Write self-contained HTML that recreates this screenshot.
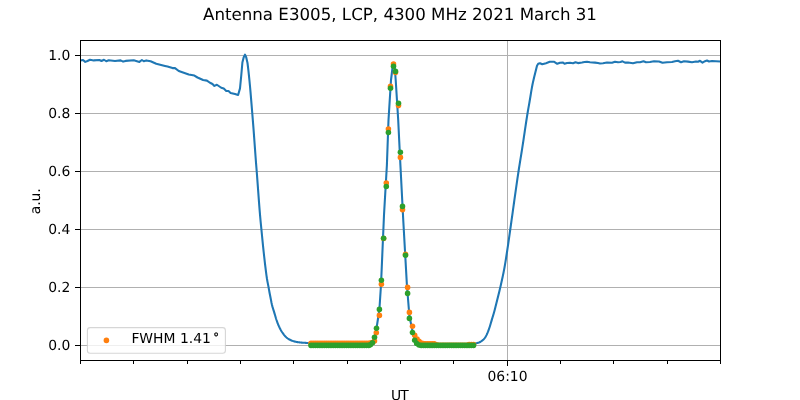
<!DOCTYPE html>
<html lang="en"><head><meta charset="utf-8"><title>Antenna E3005, LCP, 4300 MHz 2021 March 31</title>
<style>html,body{margin:0;padding:0;background:#fff;overflow:hidden}svg{display:block}text{text-rendering:geometricPrecision;font-family:'DejaVu Sans','Liberation Sans',sans-serif;fill:#000}</style></head><body>
<svg width="800" height="400" viewBox="0 0 800 400">
<rect x="0" y="0" width="800" height="400" fill="#ffffff"/>
<g stroke="#b0b0b0" stroke-width="1.11" fill="none" shape-rendering="crispEdges">
<line x1="80.5" y1="55.5" x2="720.5" y2="55.5"/>
<line x1="80.5" y1="113.5" x2="720.5" y2="113.5"/>
<line x1="80.5" y1="171.5" x2="720.5" y2="171.5"/>
<line x1="80.5" y1="229.5" x2="720.5" y2="229.5"/>
<line x1="80.5" y1="287.5" x2="720.5" y2="287.5"/>
<line x1="80.5" y1="345.5" x2="720.5" y2="345.5"/>
<line x1="507.5" y1="40.5" x2="507.5" y2="360.5"/>
</g>
<defs><clipPath id="ax"><rect x="80.5" y="40.5" width="640" height="320"/></clipPath></defs>
<g clip-path="url(#ax)">
<path d="M80.50 60.60 L83.00 60.00 L85.25 61.90 L87.50 61.00 L90.00 59.75 L93.75 60.40 L99.40 60.00 L101.50 61.00 L104.00 59.75 L106.25 61.25 L108.75 60.25 L115.00 61.00 L120.60 60.40 L123.10 61.60 L125.60 60.90 L133.75 60.25 L139.40 61.90 L141.90 60.00 L143.75 61.25 L146.25 60.40 L150.60 61.25 L156.25 63.75 L165.00 65.90 L167.50 66.50 L172.50 68.10 L175.00 68.10 L178.75 71.00 L188.75 74.40 L194.40 75.60 L197.50 77.50 L203.10 80.00 L206.90 80.60 L210.00 82.75 L212.50 84.00 L214.40 85.90 L216.90 84.75 L221.25 87.75 L223.75 88.50 L226.25 91.00 L228.50 91.00 L230.60 92.90 L235.00 94.00 L238.10 95.00 L240.00 88.40 L241.30 75.00 L242.40 62.50 L243.70 57.20 L245.00 54.60 L246.20 57.20 L247.50 63.00 L248.00 67.07 L248.50 71.43 L249.00 76.08 L249.50 80.99 L250.00 86.23 L250.50 91.88 L251.00 97.82 L251.50 103.91 L252.00 110.00 L252.50 116.10 L253.00 122.32 L253.50 128.70 L254.00 135.33 L254.50 142.22 L255.00 149.18 L255.50 156.03 L256.00 162.56 L256.50 168.78 L257.00 175.18 L257.50 181.85 L258.00 188.64 L258.50 195.45 L259.00 202.15 L259.50 208.60 L260.00 214.69 L260.50 220.28 L261.00 225.39 L261.50 230.41 L262.00 235.51 L262.50 240.60 L263.00 245.59 L263.50 250.42 L264.00 255.00 L264.50 259.42 L265.00 263.78 L265.50 267.99 L266.00 271.98 L266.50 275.68 L267.00 279.00 L267.50 281.83 L268.00 284.33 L268.50 286.86 L269.00 289.68 L269.50 292.50 L270.00 295.04 L270.50 297.50 L271.00 300.11 L271.50 302.71 L272.00 305.00 L272.50 306.88 L273.00 308.56 L273.50 310.12 L274.00 311.68 L274.50 313.34 L275.00 315.08 L275.50 316.81 L276.00 318.47 L276.50 320.00 L277.00 321.41 L277.50 322.77 L278.00 324.06 L278.50 325.28 L279.00 326.43 L279.50 327.50 L280.00 328.50 L280.50 329.46 L281.00 330.36 L281.50 331.21 L282.00 332.01 L282.50 332.75 L283.00 333.46 L283.50 334.14 L284.00 334.80 L284.50 335.42 L285.00 336.00 L285.50 336.54 L286.00 337.03 L286.50 337.46 L287.00 337.87 L287.50 338.26 L288.00 338.62 L288.50 338.95 L289.00 339.26 L289.50 339.54 L290.00 339.80 L290.50 340.04 L291.00 340.27 L291.50 340.49 L292.00 340.69 L292.50 340.89 L293.00 341.07 L293.50 341.23 L294.00 341.37 L294.50 341.50 L295.00 341.61 L295.50 341.72 L296.00 341.83 L296.50 341.93 L297.00 342.02 L297.50 342.10 L298.00 342.18 L298.50 342.26 L299.00 342.33 L299.50 342.39 L300.00 342.45 L300.50 342.50 L301.00 342.55 L301.50 342.59 L302.00 342.63 L302.50 342.67 L303.00 342.71 L303.50 342.74 L304.00 342.77 L304.50 342.80 L305.00 342.83 L305.50 342.86 L306.00 342.89 L306.50 342.92 L307.00 342.94 L307.50 342.97 L308.00 343.00 L308.50 343.03 L309.00 343.06 L309.50 343.09 L310.00 343.12 L310.50 343.15 L311.00 343.17 L311.50 343.19 L312.00 343.20 L312.50 343.20 L313.00 343.21 L313.50 343.21 L314.00 343.22 L314.50 343.22 L315.00 343.22 L315.50 343.23 L316.00 343.23 L316.50 343.23 L317.00 343.24 L317.50 343.24 L318.00 343.24 L318.50 343.25 L319.00 343.25 L319.50 343.25 L320.00 343.25 L320.50 343.26 L321.00 343.26 L321.50 343.26 L322.00 343.26 L322.50 343.27 L323.00 343.27 L323.50 343.27 L324.00 343.27 L324.50 343.27 L325.00 343.28 L325.50 343.28 L326.00 343.28 L326.50 343.28 L327.00 343.28 L327.50 343.28 L328.00 343.29 L328.50 343.29 L329.00 343.29 L329.50 343.29 L330.00 343.29 L330.50 343.29 L331.00 343.29 L331.50 343.29 L332.00 343.29 L332.50 343.29 L333.00 343.30 L333.50 343.30 L334.00 343.30 L334.50 343.30 L335.00 343.30 L335.50 343.30 L336.00 343.30 L336.50 343.30 L337.00 343.30 L337.50 343.30 L338.00 343.30 L338.50 343.30 L339.00 343.30 L339.50 343.30 L340.00 343.30 L366.00 343.40 L368.00 343.30 L370.40 342.90 L372.50 341.50 L374.50 337.00 L376.50 328.50 L379.40 309.50 L381.00 285.00 L384.00 215.00 L386.90 165.00 L388.50 120.00 L391.00 80.00 L392.50 68.00 L393.50 65.30 L394.80 68.00 L395.70 80.00 L398.20 120.00 L400.40 165.00 L403.25 220.00 L406.90 285.00 L409.40 316.00 L412.50 331.00 L414.70 339.00 L417.00 342.50 L419.00 344.00 L425.00 344.80 L470.00 344.60 L474.00 344.00 L476.00 343.25 L476.50 343.19 L477.00 343.10 L477.50 342.98 L478.00 342.83 L478.50 342.67 L479.00 342.50 L479.50 342.30 L480.00 342.04 L480.50 341.75 L481.00 341.42 L481.50 341.07 L482.00 340.70 L482.50 340.31 L483.00 339.88 L483.50 339.41 L484.00 338.90 L484.50 338.33 L485.00 337.70 L485.50 336.96 L486.00 336.08 L486.50 335.10 L487.00 334.05 L487.50 332.93 L488.00 331.71 L488.50 330.37 L489.00 328.96 L489.50 327.50 L490.00 325.95 L490.50 324.28 L491.00 322.56 L491.50 320.84 L492.00 319.17 L492.50 317.54 L493.00 315.91 L493.50 314.24 L494.00 312.50 L494.50 310.67 L495.00 308.76 L495.50 306.80 L496.00 304.80 L496.50 302.77 L497.00 300.74 L497.50 298.71 L498.00 296.70 L498.50 294.70 L499.00 292.70 L499.50 290.67 L500.00 288.57 L500.50 286.41 L501.00 284.23 L501.50 282.03 L502.00 279.78 L502.50 277.48 L503.00 275.12 L503.50 272.67 L504.00 270.12 L504.50 267.46 L505.00 264.62 L505.50 261.61 L506.00 258.47 L506.50 255.24 L507.00 251.97 L507.50 248.68 L508.00 245.30 L508.50 241.84 L509.00 238.32 L509.50 234.78 L510.00 231.25 L510.50 227.75 L511.00 224.23 L511.50 220.68 L512.00 217.11 L512.50 213.53 L513.00 209.94 L513.50 206.35 L514.00 202.76 L514.50 199.18 L515.00 195.61 L515.50 192.06 L516.00 188.54 L516.50 185.05 L517.00 181.59 L517.50 178.18 L518.00 174.81 L518.50 171.50 L519.00 168.27 L519.50 165.11 L520.00 162.02 L520.50 158.95 L521.00 155.88 L521.50 152.78 L522.00 149.64 L522.50 146.42 L523.00 143.13 L523.50 139.80 L524.00 136.43 L524.50 133.06 L525.00 129.68 L525.50 126.33 L526.00 123.02 L526.50 119.77 L527.00 116.59 L527.50 113.50 L528.00 110.54 L528.50 107.68 L529.00 104.86 L529.50 102.00 L530.00 99.04 L530.50 95.99 L531.00 92.93 L531.50 89.95 L532.00 87.11 L532.50 84.50 L533.00 82.14 L533.50 79.94 L534.00 77.84 L534.50 75.78 L535.00 73.71 L535.50 71.67 L536.00 69.66 L536.50 67.69 L537.00 65.75 L538.20 63.80 L540.00 63.20 L542.25 64.25 L546.00 63.20 L549.75 61.80 L554.25 61.80 L557.25 63.80 L560.00 62.80 L563.00 62.50 L564.50 63.80 L567.00 63.00 L570.00 62.80 L573.00 63.30 L575.50 62.30 L578.00 63.10 L582.00 62.50 L584.50 62.00 L587.00 61.80 L590.00 62.30 L595.00 62.60 L598.00 63.00 L600.00 63.50 L603.00 63.20 L607.00 62.50 L612.00 62.80 L615.00 61.80 L618.00 62.30 L620.50 62.00 L622.50 61.30 L625.00 62.60 L628.00 62.50 L633.00 63.20 L637.00 62.20 L640.00 62.20 L643.50 61.20 L646.00 62.20 L650.00 62.00 L654.00 61.30 L659.00 61.50 L662.50 62.80 L667.00 62.20 L672.00 62.00 L675.00 61.30 L678.00 60.80 L681.00 62.30 L684.00 61.30 L688.00 61.60 L692.00 62.20 L696.00 61.50 L698.00 61.80 L700.00 60.80 L702.50 62.60 L705.00 61.20 L707.00 60.50 L709.00 61.50 L712.00 61.00 L716.00 61.20 L720.50 61.50" fill="none" stroke="#1f77b4" stroke-width="2.08" stroke-linejoin="round" stroke-linecap="butt"/>
<g fill="#ff7f0e"><circle cx="311.00" cy="343.20" r="2.78"/>
<circle cx="313.22" cy="343.20" r="2.78"/>
<circle cx="315.44" cy="343.20" r="2.78"/>
<circle cx="317.66" cy="343.20" r="2.78"/>
<circle cx="319.88" cy="343.20" r="2.78"/>
<circle cx="322.10" cy="343.20" r="2.78"/>
<circle cx="324.32" cy="343.20" r="2.78"/>
<circle cx="326.54" cy="343.20" r="2.78"/>
<circle cx="328.76" cy="343.20" r="2.78"/>
<circle cx="330.98" cy="343.20" r="2.78"/>
<circle cx="333.20" cy="343.20" r="2.78"/>
<circle cx="335.42" cy="343.20" r="2.78"/>
<circle cx="337.64" cy="343.20" r="2.78"/>
<circle cx="339.86" cy="343.20" r="2.78"/>
<circle cx="342.08" cy="343.20" r="2.78"/>
<circle cx="344.30" cy="343.20" r="2.78"/>
<circle cx="346.52" cy="343.20" r="2.78"/>
<circle cx="348.74" cy="343.20" r="2.78"/>
<circle cx="350.96" cy="343.20" r="2.78"/>
<circle cx="353.18" cy="343.20" r="2.78"/>
<circle cx="355.40" cy="343.20" r="2.78"/>
<circle cx="357.62" cy="343.20" r="2.78"/>
<circle cx="359.84" cy="343.20" r="2.78"/>
<circle cx="362.06" cy="343.20" r="2.78"/>
<circle cx="364.28" cy="343.20" r="2.78"/>
<circle cx="366.50" cy="343.20" r="2.78"/>
<circle cx="368.72" cy="343.20" r="2.78"/>
<circle cx="370.40" cy="343.00" r="2.78"/>
<circle cx="372.50" cy="342.50" r="2.78"/>
<circle cx="374.50" cy="341.00" r="2.78"/>
<circle cx="376.30" cy="332.70" r="2.78"/>
<circle cx="379.40" cy="315.40" r="2.78"/>
<circle cx="381.40" cy="284.20" r="2.78"/>
<circle cx="383.60" cy="238.50" r="2.78"/>
<circle cx="386.30" cy="183.00" r="2.78"/>
<circle cx="388.40" cy="129.00" r="2.78"/>
<circle cx="390.50" cy="86.40" r="2.78"/>
<circle cx="393.50" cy="64.00" r="2.78"/>
<circle cx="395.50" cy="72.40" r="2.78"/>
<circle cx="398.50" cy="105.60" r="2.78"/>
<circle cx="400.40" cy="157.40" r="2.78"/>
<circle cx="402.50" cy="209.70" r="2.78"/>
<circle cx="405.50" cy="254.40" r="2.78"/>
<circle cx="407.60" cy="287.40" r="2.78"/>
<circle cx="409.40" cy="312.40" r="2.78"/>
<circle cx="412.50" cy="326.30" r="2.78"/>
<circle cx="414.70" cy="335.30" r="2.78"/>
<circle cx="417.00" cy="339.00" r="2.78"/>
<circle cx="419.00" cy="341.30" r="2.78"/>
<circle cx="421.20" cy="343.00" r="2.78"/>
<circle cx="423.38" cy="343.50" r="2.78"/>
<circle cx="425.56" cy="343.90" r="2.78"/>
<circle cx="427.74" cy="343.90" r="2.78"/>
<circle cx="429.92" cy="343.90" r="2.78"/>
<circle cx="432.10" cy="343.90" r="2.78"/>
<circle cx="434.28" cy="343.90" r="2.78"/>
<circle cx="436.46" cy="344.70" r="2.78"/>
<circle cx="438.64" cy="345.30" r="2.78"/>
<circle cx="440.82" cy="345.30" r="2.78"/>
<circle cx="443.00" cy="345.30" r="2.78"/>
<circle cx="445.18" cy="345.30" r="2.78"/>
<circle cx="447.36" cy="345.30" r="2.78"/>
<circle cx="449.54" cy="345.30" r="2.78"/>
<circle cx="451.72" cy="345.30" r="2.78"/>
<circle cx="453.90" cy="345.30" r="2.78"/>
<circle cx="456.08" cy="345.30" r="2.78"/>
<circle cx="458.26" cy="345.30" r="2.78"/>
<circle cx="460.44" cy="345.30" r="2.78"/>
<circle cx="462.62" cy="345.30" r="2.78"/>
<circle cx="464.80" cy="345.30" r="2.78"/>
<circle cx="466.98" cy="345.30" r="2.78"/>
<circle cx="469.16" cy="344.60" r="2.78"/>
<circle cx="471.34" cy="344.60" r="2.78"/>
<circle cx="473.52" cy="344.60" r="2.78"/></g>
<g fill="#2ca02c"><circle cx="311.00" cy="345.40" r="2.78"/>
<circle cx="313.22" cy="345.40" r="2.78"/>
<circle cx="315.44" cy="345.40" r="2.78"/>
<circle cx="317.66" cy="345.40" r="2.78"/>
<circle cx="319.88" cy="345.40" r="2.78"/>
<circle cx="322.10" cy="345.40" r="2.78"/>
<circle cx="324.32" cy="345.40" r="2.78"/>
<circle cx="326.54" cy="345.40" r="2.78"/>
<circle cx="328.76" cy="345.40" r="2.78"/>
<circle cx="330.98" cy="345.40" r="2.78"/>
<circle cx="333.20" cy="345.40" r="2.78"/>
<circle cx="335.42" cy="345.40" r="2.78"/>
<circle cx="337.64" cy="345.40" r="2.78"/>
<circle cx="339.86" cy="345.40" r="2.78"/>
<circle cx="342.08" cy="345.40" r="2.78"/>
<circle cx="344.30" cy="345.40" r="2.78"/>
<circle cx="346.52" cy="345.40" r="2.78"/>
<circle cx="348.74" cy="345.40" r="2.78"/>
<circle cx="350.96" cy="345.40" r="2.78"/>
<circle cx="353.18" cy="345.40" r="2.78"/>
<circle cx="355.40" cy="345.40" r="2.78"/>
<circle cx="357.62" cy="345.40" r="2.78"/>
<circle cx="359.84" cy="345.40" r="2.78"/>
<circle cx="362.06" cy="345.40" r="2.78"/>
<circle cx="364.28" cy="345.40" r="2.78"/>
<circle cx="366.50" cy="345.40" r="2.78"/>
<circle cx="368.72" cy="345.40" r="2.78"/>
<circle cx="370.40" cy="344.80" r="2.78"/>
<circle cx="372.50" cy="342.80" r="2.78"/>
<circle cx="374.50" cy="337.30" r="2.78"/>
<circle cx="376.50" cy="328.30" r="2.78"/>
<circle cx="379.40" cy="309.40" r="2.78"/>
<circle cx="381.40" cy="280.20" r="2.78"/>
<circle cx="383.60" cy="238.30" r="2.78"/>
<circle cx="386.30" cy="186.50" r="2.78"/>
<circle cx="388.40" cy="132.50" r="2.78"/>
<circle cx="390.50" cy="88.20" r="2.78"/>
<circle cx="393.50" cy="66.25" r="2.78"/>
<circle cx="395.50" cy="71.40" r="2.78"/>
<circle cx="398.50" cy="103.20" r="2.78"/>
<circle cx="400.40" cy="152.20" r="2.78"/>
<circle cx="402.50" cy="206.40" r="2.78"/>
<circle cx="405.50" cy="255.25" r="2.78"/>
<circle cx="407.60" cy="293.40" r="2.78"/>
<circle cx="409.40" cy="318.40" r="2.78"/>
<circle cx="412.50" cy="332.50" r="2.78"/>
<circle cx="414.70" cy="340.30" r="2.78"/>
<circle cx="416.70" cy="343.50" r="2.78"/>
<circle cx="419.00" cy="345.00" r="2.78"/>
<circle cx="421.20" cy="345.40" r="2.78"/>
<circle cx="423.38" cy="345.40" r="2.78"/>
<circle cx="425.56" cy="345.40" r="2.78"/>
<circle cx="427.74" cy="345.40" r="2.78"/>
<circle cx="429.92" cy="345.40" r="2.78"/>
<circle cx="432.10" cy="345.40" r="2.78"/>
<circle cx="434.28" cy="345.40" r="2.78"/>
<circle cx="436.46" cy="345.40" r="2.78"/>
<circle cx="438.64" cy="345.40" r="2.78"/>
<circle cx="440.82" cy="345.40" r="2.78"/>
<circle cx="443.00" cy="345.40" r="2.78"/>
<circle cx="445.18" cy="345.40" r="2.78"/>
<circle cx="447.36" cy="345.40" r="2.78"/>
<circle cx="449.54" cy="345.40" r="2.78"/>
<circle cx="451.72" cy="345.40" r="2.78"/>
<circle cx="453.90" cy="345.40" r="2.78"/>
<circle cx="456.08" cy="345.40" r="2.78"/>
<circle cx="458.26" cy="345.40" r="2.78"/>
<circle cx="460.44" cy="345.40" r="2.78"/>
<circle cx="462.62" cy="345.40" r="2.78"/>
<circle cx="464.80" cy="345.40" r="2.78"/>
<circle cx="466.98" cy="345.40" r="2.78"/>
<circle cx="469.16" cy="345.40" r="2.78"/>
<circle cx="471.34" cy="345.40" r="2.78"/>
<circle cx="473.52" cy="345.40" r="2.78"/></g>
</g>
<g stroke="#000" stroke-width="1.11" fill="none" shape-rendering="crispEdges">
<line x1="75" y1="55.5" x2="80.5" y2="55.5"/>
<line x1="75" y1="113.5" x2="80.5" y2="113.5"/>
<line x1="75" y1="171.5" x2="80.5" y2="171.5"/>
<line x1="75" y1="229.5" x2="80.5" y2="229.5"/>
<line x1="75" y1="287.5" x2="80.5" y2="287.5"/>
<line x1="75" y1="345.5" x2="80.5" y2="345.5"/>
<line x1="80.5" y1="360.5" x2="80.5" y2="364"/>
<line x1="133.5" y1="360.5" x2="133.5" y2="364"/>
<line x1="187.5" y1="360.5" x2="187.5" y2="364"/>
<line x1="240.5" y1="360.5" x2="240.5" y2="364"/>
<line x1="293.5" y1="360.5" x2="293.5" y2="364"/>
<line x1="347.5" y1="360.5" x2="347.5" y2="364"/>
<line x1="400.5" y1="360.5" x2="400.5" y2="364"/>
<line x1="453.5" y1="360.5" x2="453.5" y2="364"/>
<line x1="507.5" y1="360.5" x2="507.5" y2="366"/>
<line x1="560.5" y1="360.5" x2="560.5" y2="364"/>
<line x1="613.5" y1="360.5" x2="613.5" y2="364"/>
<line x1="667.5" y1="360.5" x2="667.5" y2="364"/>
<line x1="720.5" y1="360.5" x2="720.5" y2="364"/>
<rect x="80.5" y="40.5" width="640" height="320"/>
</g>
<text x="70.3" y="60.3" font-size="13.89" text-anchor="end">1.0</text>
<text x="70.3" y="118.3" font-size="13.89" text-anchor="end">0.8</text>
<text x="70.3" y="176.3" font-size="13.89" text-anchor="end">0.6</text>
<text x="70.3" y="234.3" font-size="13.89" text-anchor="end">0.4</text>
<text x="70.3" y="292.3" font-size="13.89" text-anchor="end">0.2</text>
<text x="70.3" y="350.3" font-size="13.89" text-anchor="end">0.0</text>
<text x="507.5" y="380.6" font-size="13.89" text-anchor="middle">06:10</text>
<text x="390.9 400.33" y="400.2" font-size="13.89">UT</text>
<text transform="translate(39.8 201.3) rotate(-90)" font-size="13.89" text-anchor="middle">a.u.</text>
<text x="400" y="19.6" font-size="16.67" text-anchor="middle">Antenna E3005, LCP, 4300 MHz 2021 March 31</text>
<rect x="87.4" y="327.6" width="138" height="25.7" rx="2.78" ry="2.78" fill="#ffffff" fill-opacity="0.8" stroke="#cccccc" stroke-opacity="0.8" stroke-width="1.11"/>
<circle cx="106.4" cy="340.4" r="2.78" fill="#ff7f0e"/>
<text x="131.4" y="342.7" font-size="13.89">FWHM 1.41<tspan font-size="11.6" x="212.4" y="337.8" stroke="#000" stroke-width="0.3">∘</tspan></text>
</svg></body></html>
